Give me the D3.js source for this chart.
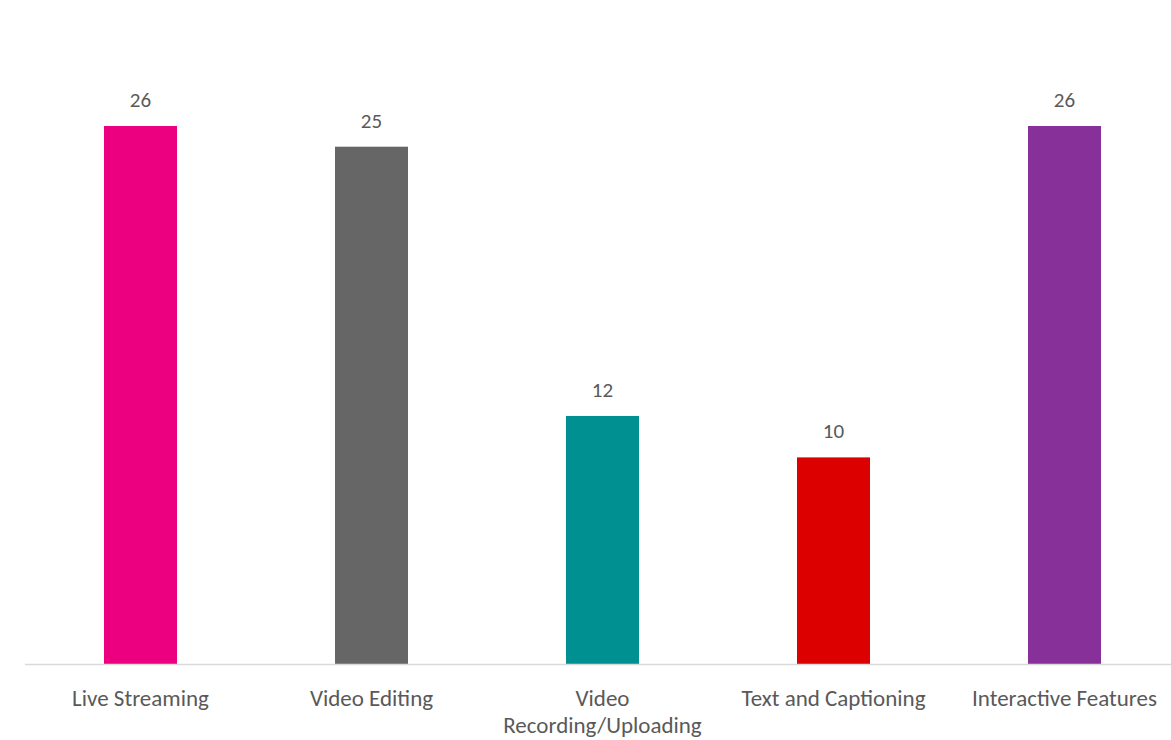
<!DOCTYPE html>
<html>
<head>
<meta charset="utf-8">
<script src="https://cdn.jsdelivr.net/npm/d3@7"></script>
<style>
  html, body { margin: 0; padding: 0; background: #fff; }
  svg text { font-family: Carlito, Lato, "Noto Sans", sans-serif; }
</style>
</head>
<body>
<svg id="chart" width="1171" height="740"></svg>
<script>
// Feature usage counts
const categories = ["Live Streaming", "Video Editing", "Video Recording/Uploading", "Text and Captioning", "Interactive Features"];
const labelLines = [["Live Streaming"], ["Video Editing"], ["Video", "Recording/Uploading"], ["Text and Captioning"], ["Interactive Features"]];
const values = [26, 25, 12, 10, 26];
const colors = ["#EC0080", "#666666", "#009091", "#DC0000", "#88309A"];

const svg = d3.select("#chart");
const baseline = 664.5;

const x = d3.scaleBand()
  .domain(categories)
  .range([25, 1180])
  .paddingInner(1 - 73 / 231)
  .paddingOuter((1 - 73 / 231) / 2);

const y = d3.scaleLinear()
  .domain([0, 26])
  .range([baseline, 126]);

// bars
svg.append("g").selectAll("rect")
  .data(categories)
  .join("rect")
  .attr("x", d => x(d))
  .attr("width", x.bandwidth())
  .attr("y", (d, i) => y(values[i]))
  .attr("height", (d, i) => baseline - y(values[i]))
  .attr("fill", (d, i) => colors[i]);

// value labels
svg.append("g").selectAll("text")
  .data(categories)
  .join("text")
  .attr("x", d => x(d) + x.bandwidth() / 2)
  .attr("y", (d, i) => y(values[i]) - 19)
  .attr("text-anchor", "middle")
  .attr("font-size", 21)
  .attr("fill", "#595959")
  .text((d, i) => values[i]);

// category axis
const axis = svg.append("g")
  .attr("transform", `translate(0,${baseline})`)
  .call(d3.axisBottom(x).tickSize(0).tickFormat(""));
axis.select(".domain").attr("stroke", "#D9D9D9").attr("stroke-width", 1.5)
  .attr("d", "M25,0H1171");

const tickLabels = svg.append("g").selectAll("text")
  .data(categories)
  .join("text")
  .attr("x", d => x(d) + x.bandwidth() / 2)
  .attr("y", 706)
  .attr("text-anchor", "middle")
  .attr("font-size", 23)
  .attr("fill", "#595959");
tickLabels.selectAll("tspan")
  .data((d, i) => labelLines[i])
  .join("tspan")
  .attr("x", function() { return this.parentNode.getAttribute("x"); })
  .attr("dy", (d, j) => j === 0 ? 0 : 27)
  .text(d => d);
</script>
</body>
</html>
